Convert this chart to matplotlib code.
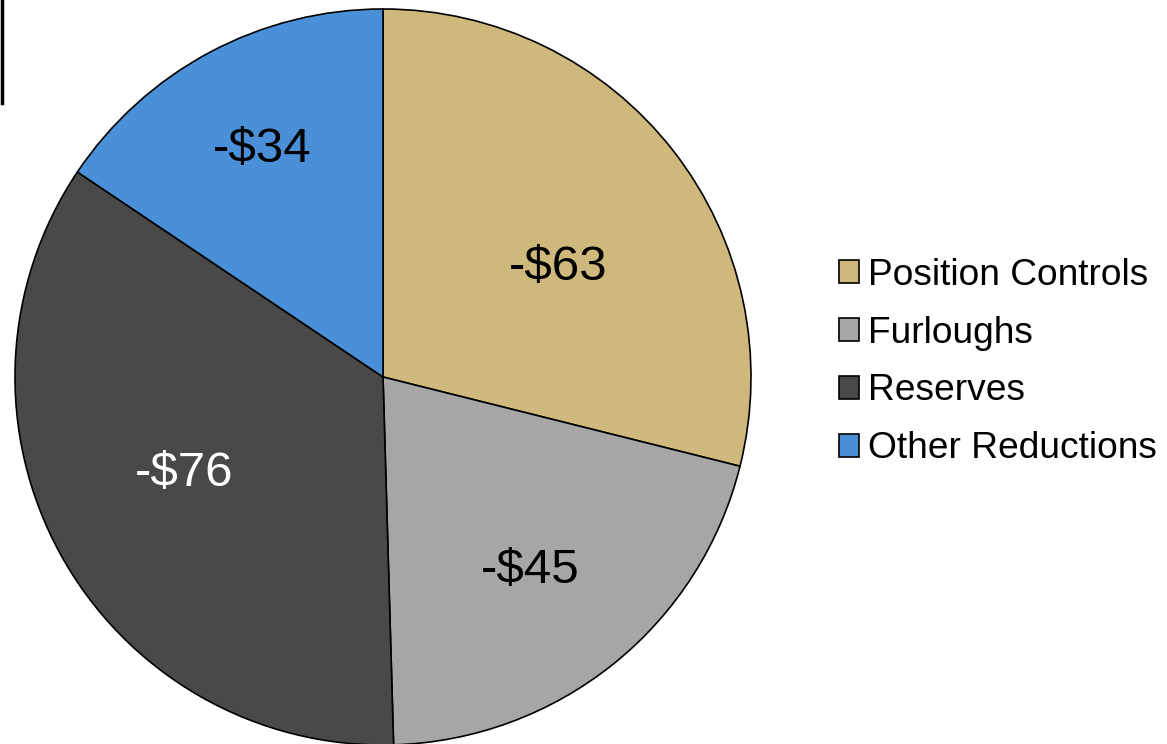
import numpy as np
import matplotlib.pyplot as plt
from matplotlib.lines import Line2D

plt.rcParams['font.family'] = ['Liberation Sans', 'DejaVu Sans']

# data
categories = ['Position Controls', 'Furloughs', 'Reserves', 'Other Reductions']
values = [63, 45, 76, 34]
labels = ['-$63', '-$45', '-$76', '-$34']
colors = ['#CFB87C', '#A5A7A6', '#494949', '#4A90D9']
label_colors = ['black', 'black', 'white', 'black']
label_dist = [0.56, 0.66, 0.60, 0.70]
label_shift = [-6, -1.5, -3, 0]  # degrees, to match label placement

W, H = 1167, 744
fig = plt.figure(figsize=(W / 100, H / 100), dpi=100)

cx, cy, r = 383, 367, 368
ax = fig.add_axes([(cx - r) / W, (cy - r) / H, 2 * r / W, 2 * r / H])
wedges, _ = ax.pie(values, colors=colors, startangle=90, counterclock=False,
                   radius=1, wedgeprops=dict(edgecolor='black', linewidth=1.2))
ax.set_xlim(-1, 1)
ax.set_ylim(-1, 1)
ax.set_aspect('equal')
ax.axis('off')

for w, lab, col, d, s in zip(wedges, labels, label_colors, label_dist, label_shift):
    ang = np.deg2rad((w.theta1 + w.theta2) / 2 + s)
    ax.text(d * np.cos(ang), d * np.sin(ang), lab, color=col, fontsize=35.5,
            ha='center', va='center')

fig.legend(wedges, categories, loc='center left',
           bbox_to_anchor=(824 / W, 1 - 362 / H), frameon=False,
           fontsize=26.7, handlelength=0.55, handleheight=0.55,
           handletextpad=0.25, labelspacing=0.62, borderaxespad=0)

# stray frame edge at top-left
fig.add_artist(Line2D([0.0015, 0.0015], [1, 1 - 103 / H], color='black',
                      linewidth=2.5, transform=fig.transFigure))

fig.savefig('out.png', dpi=100, facecolor='white')
